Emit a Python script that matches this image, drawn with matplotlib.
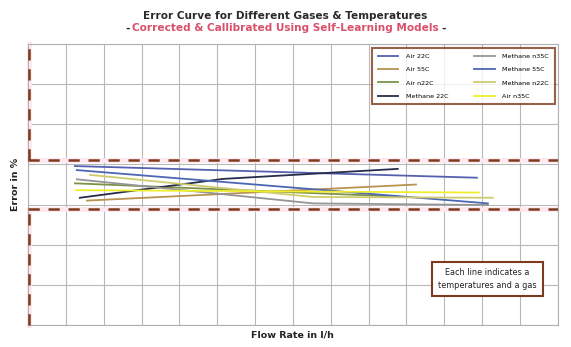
import matplotlib
matplotlib.use("Agg")
import matplotlib.pyplot as plt

# Flow-rate positions (grid units) and error values (%) per gas / temperature
air_22c_x = [1.24, 11.86]
air_22c_y = [0.46, 0.17]
air_55c_x = [1.56, 10.25]
air_55c_y = [-0.40, 0.00]
air_n22c_x = [1.24, 9.77]
air_n22c_y = [0.03, -0.30]
methane_22c_x = [1.37, 3.94, 5.15, 9.77]
methane_22c_y = [-0.33, -0.01, 0.14, 0.39]
methane_n35c_x = [1.29, 7.53, 12.15]
methane_n35c_y = [0.13, -0.47, -0.51]
methane_55c_x = [1.29, 12.15]
methane_55c_y = [0.36, -0.47]
methane_n22c_x = [1.64, 7.53, 12.28]
methane_n22c_y = [0.24, -0.31, -0.33]
air_n35c_x = [1.27, 11.91]
air_n35c_y = [-0.14, -0.20]

# Tolerance band limits (%)
upper_limit = 0.6
lower_limit = -0.6

series = [
    ("Air 22C", air_22c_x, air_22c_y, "#5561b0"),
    ("Air 55C", air_55c_x, air_55c_y, "#b89250"),
    ("Air n22C", air_n22c_x, air_n22c_y, "#7d9245"),
    ("Methane 22C", methane_22c_x, methane_22c_y, "#262c4a"),
    ("Methane n35C", methane_n35c_x, methane_n35c_y, "#959595"),
    ("Methane 55C", methane_55c_x, methane_55c_y, "#4d67b3"),
    ("Methane n22C", methane_n22c_x, methane_n22c_y, "#cfcc70"),
    ("Air n35C", air_n35c_x, air_n35c_y, "#eeee2a"),
]

BROWN = "#7e3a1c"
HALO = "#ffe8f0"

fig = plt.figure(figsize=(5.71, 3.47), dpi=100)
ax = fig.add_axes([0.049, 0.0634, 0.928, 0.8096])

ax.set_xlim(0, 14)
ax.set_ylim(-3.5, 3.5)
ax.set_xticks(range(0, 15))
ax.set_yticks([-3.5 + i for i in range(8)])
ax.tick_params(length=0, labelbottom=False, labelleft=False)
ax.grid(True, color="#b8b8b8", linewidth=0.8)
for s in ax.spines.values():
    s.set_color("#b0b0b0")
    s.set_linewidth(0.8)

# tolerance band: dashed limits with soft halo
for yl in (upper_limit, lower_limit):
    ax.axhline(yl, color=HALO, linewidth=3.5, zorder=2)
    ax.axhline(yl, color=BROWN, linewidth=1.8, dashes=(4.5, 3.5), zorder=3)
for y0, y1 in ((upper_limit, 3.5), (-3.5, lower_limit)):
    ax.plot([0.02, 0.02], [y0, y1], color=HALO, linewidth=3.5, zorder=2, clip_on=False)
    ax.plot([0.02, 0.02], [y0, y1], color=BROWN, linewidth=1.8, dashes=(4.5, 3.5),
            zorder=3, clip_on=False)

handles = []
for name, xs, ys, col in series:
    h, = ax.plot(xs, ys, color=col, linewidth=1.3, label=name, zorder=4)
    handles.append(h)

leg = ax.legend(handles=handles, ncol=2, loc="upper right",
                bbox_to_anchor=(1.0, 0.997), fontsize=4.6, frameon=True,
                fancybox=False, edgecolor=BROWN, handlelength=3.2,
                columnspacing=4.0, labelspacing=1.2, borderpad=0.9,
                handletextpad=1.2)
leg.get_frame().set_linewidth(1.5)
leg.set_zorder(6)

ax.text(0.8665, 0.163, "Each line indicates a\ntemperatures and a gas",
        transform=ax.transAxes, fontsize=5.9, color="#222222", ha="center",
        va="center", linespacing=1.5, zorder=6,
        bbox=dict(boxstyle="square,pad=0.75", facecolor="white",
                  edgecolor=BROWN, linewidth=1.5))

fig.text(0.5, 0.955, "Error Curve for Different Gases & Temperatures",
         ha="center", va="center", fontsize=7.6, color="#2a2a2a",
         fontweight="bold")
sub = "Corrected & Callibrated Using Self-Learning Models"
t = fig.text(0.5, 0.918, sub, ha="center", va="center", fontsize=7.6,
             color="#d9506a", fontweight="bold")
fig.canvas.draw()
bb = t.get_window_extent().transformed(fig.transFigure.inverted())
fig.text(bb.x0 - 0.004, 0.918, "-", ha="right", va="center", fontsize=7.6,
         color="#2a2a2a", fontweight="bold")
fig.text(bb.x1 + 0.004, 0.918, "-", ha="left", va="center", fontsize=7.6,
         color="#2a2a2a", fontweight="bold")

ax.set_xlabel("Flow Rate in l/h", fontsize=6.8, fontweight="bold",
              color="#222222", labelpad=4)
ax.set_ylabel("Error in %", fontsize=6.8, fontweight="bold",
              color="#222222", labelpad=6)

fig.savefig("out.png", dpi=100, facecolor="white")
